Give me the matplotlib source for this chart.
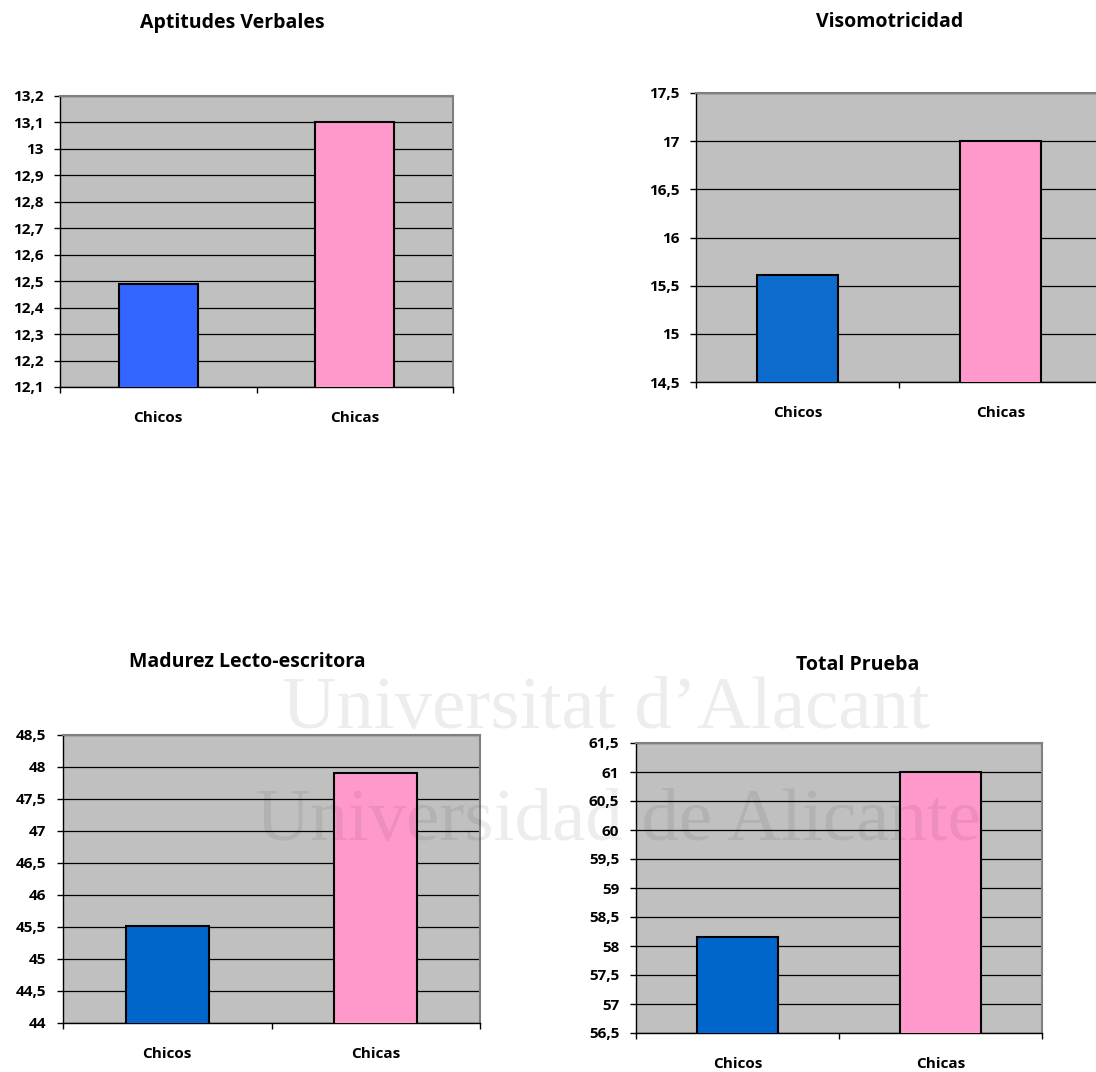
import matplotlib
matplotlib.use("Agg")
import matplotlib.pyplot as plt
from matplotlib.ticker import MultipleLocator, FuncFormatter

# =========================
# Data
# =========================
categories = ["Chicos", "Chicas"]

titles = ["Aptitudes Verbales", "Visomotricidad",
          "Madurez Lecto-escritora", "Total Prueba"]

aptitudes = [12.49, 13.1]
visomotricidad = [15.61, 17.0]
madurez = [45.52, 47.9]
total = [58.15, 61.0]

y_limits = [(12.1, 13.2), (14.5, 17.5), (44, 48.5), (56.5, 61.5)]
y_steps = [0.1, 0.5, 0.5, 0.5]

chicos_colors = ["#3366FF", "#0C6BCD", "#0066CC", "#0066CC"]
chicas_color = "#FF99CC"

# =========================
# Layout (pixels of the 1096x1072 image)
# =========================
W, H = 1096, 1072
# left, top, right, bottom of each plot area
boxes = [(60, 96, 453, 387), (696, 93, 1102, 382),
         (63, 735, 480, 1023), (636, 743, 1042, 1033)]
title_pos = [(232, 23), (890, 22), (247, 662), (858, 665)]

FONT = ["Open Sans", "DejaVu Sans"]
plt.rcParams["font.family"] = FONT

fig = plt.figure(figsize=(W / 100, H / 100), dpi=100)
fig.patch.set_facecolor("white")

series = [aptitudes, visomotricidad, madurez, total]


def comma_fmt(v, pos):
    return f"{round(v, 2):g}".replace(".", ",")


for i, values in enumerate(series):
    l, t, r, b = boxes[i]
    ax = fig.add_axes([l / W, 1 - b / H, (r - l) / W, (b - t) / H])
    ax.set_facecolor("#C0C0C0")
    ax.set_axisbelow(True)

    ax.bar(range(len(categories)), values, width=0.4,
           color=[chicos_colors[i], chicas_color],
           edgecolor="black", linewidth=1.5, zorder=3)

    ax.set_xlim(-0.5, len(categories) - 0.5)
    ax.set_ylim(*y_limits[i])
    ax.yaxis.set_major_locator(MultipleLocator(y_steps[i]))
    ax.yaxis.set_major_formatter(FuncFormatter(comma_fmt))
    ax.grid(axis="y", color="black", linewidth=0.9)

    # category labels centred, tick marks between categories
    ax.set_xticks(range(len(categories)))
    ax.set_xticklabels(categories)
    ax.set_xticks([-0.5, 0.5, 1.5], minor=True)
    ax.tick_params(axis="x", which="major", length=0, pad=17, labelsize=11)
    ax.tick_params(axis="x", which="minor", length=4, width=1, direction="out")
    ax.tick_params(axis="y", length=4, width=1, pad=8, labelsize=11)
    for lab in ax.get_xticklabels() + ax.get_yticklabels():
        lab.set_fontweight("bold")

    for side in ["top", "right"]:
        ax.spines[side].set_color("#808080")
        ax.spines[side].set_linewidth(1.5)
    for side in ["left", "bottom"]:
        ax.spines[side].set_color("black")
        ax.spines[side].set_linewidth(1.0)

    tx, ty = title_pos[i]
    fig.text(tx / W, 1 - ty / H, titles[i], ha="center", va="center",
             fontsize=14, fontweight="bold")

# watermark of the source document
for txt, x, y in [("Universitat d\u2019Alacant", 606, 728),
                  ("Universidad de Alicante", 618, 840)]:
    fig.text(x / W, 1 - y / H, txt, ha="center", va="baseline",
             fontsize=54, family="Liberation Serif", fontweight="normal",
             color="black", alpha=0.07, zorder=10)

fig.savefig("out.png", dpi=100)
